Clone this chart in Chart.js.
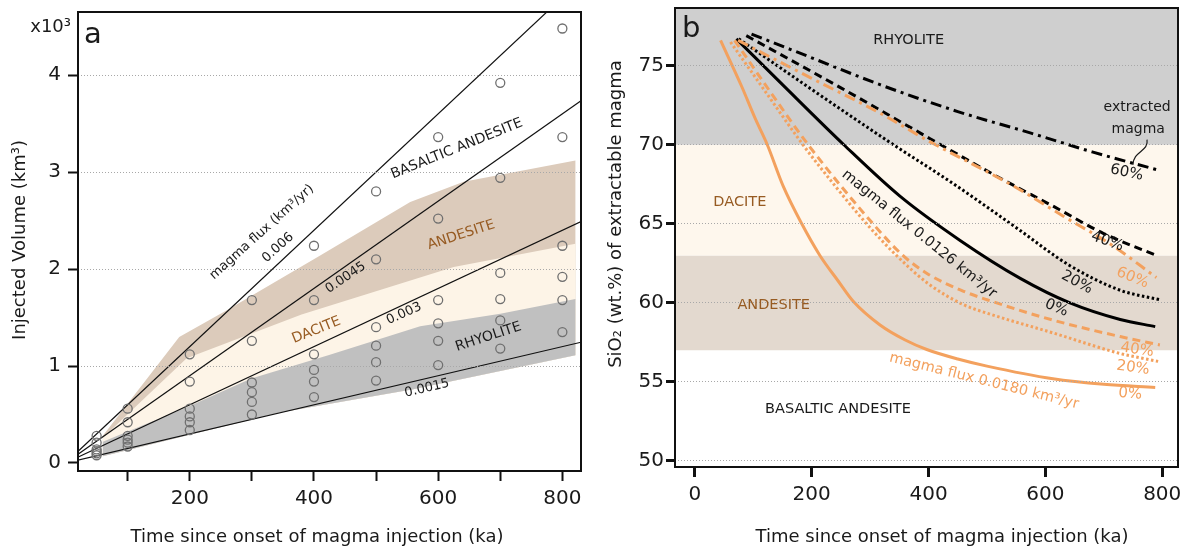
<!DOCTYPE html>
<html>
<head>
<meta charset="utf-8">
<script src="https://cdn.jsdelivr.net/npm/chart.js@4.4.1/dist/chart.umd.min.js"></script>
<style>
  html, body { margin: 0; padding: 0; background: #fff; }
  #wrap { position: relative; width: 1195px; height: 547px; }
  canvas { position: absolute; top: 0; }
  #chartA { left: 0; }
  #chartB { left: 597px; }
</style>
</head>
<body>
<div id="wrap">
  <canvas id="chartA" width="597" height="547"></canvas>
  <canvas id="chartB" width="598" height="547"></canvas>
</div>
<script>
// ---- panel a: injected volume (10^3 km^3) against time (ka) ----
const injectionTimes = [50, 100, 200, 300, 400, 500, 600, 700, 800];
const volRun1 = [0.28, 0.56, 1.12, 1.68, 2.24, 2.80, 3.36, 3.92, 4.48];
const volRun2 = [0.21, 0.42, 0.84, 1.26, 1.68, 2.10, 2.52, 2.94, 3.36];
const volRun3 = [0.14, 0.28, 0.56, 0.83, 1.12, 1.40, 1.68, 1.96, 2.24];
const volRun4 = [0.12, 0.24, 0.48, 0.73, 0.96, 1.21, 1.44, 1.69, 1.92];
const volRun5 = [0.10, 0.21, 0.42, 0.63, 0.84, 1.04, 1.26, 1.47, 1.68];
const volRun6 = [0.08, 0.17, 0.34, 0.50, 0.68, 0.85, 1.01, 1.18, 1.35];

const fluxRates = [0.006, 0.0045, 0.003, 0.0015]; // km^3/yr
const volumeTicks = [0, 1, 2, 3, 4];
const timeTicksA = [100, 200, 300, 400, 500, 600, 700, 800];

// composition fields as [time, volume] along each edge
const andesiteTop = [[60, 0.28], [183, 1.30], [261, 1.58], [410, 2.14], [555, 2.69], [641, 2.90], [821, 3.12]];
const daciteTop = [[60, 0.26], [195, 1.08], [380, 1.53], [625, 2.02], [821, 2.26]];
const rhyoliteTop = [[60, 0.22], [197, 0.58], [299, 0.87], [423, 1.11], [571, 1.41], [700, 1.54], [821, 1.69]];
const rhyoliteBase = [[60, 0.07], [345, 0.52], [560, 0.76], [821, 1.11]];

// ---- panel b: SiO2 of extractable magma (wt.%) against time (ka) ----
const silicaTicks = [50, 55, 60, 65, 70, 75];
const timeTicksB = [0, 200, 400, 600, 800];
const rhyoliteMin = 70;
const daciteMin = 63;
const andesiteMin = 57;

// slow = 0.0126 km^3/yr, fast = 0.0180 km^3/yr; suffix = % magma extracted
const slow0 = [[71, 76.7], [150, 73.8], [255, 70.0], [351, 66.75], [454, 63.95], [557, 61.55], [642, 60.0], [728, 58.95], [788, 58.5]];
const slow20 = [[75, 76.7], [200, 73.5], [340, 70.0], [440, 67.6], [556, 64.6], [640, 62.4], [728, 60.8], [796, 60.2]];
const slow40 = [[88, 76.9], [250, 73.6], [402, 70.4], [522, 67.9], [614, 66.1], [699, 64.4], [790, 63.0]];
const slow60 = [[97, 77.0], [200, 75.5], [317, 73.8], [450, 72.1], [574, 70.75], [680, 69.55], [793, 68.4]];
const fast0 = [[44, 76.6], [80, 73.7], [104, 71.6], [124, 70.0], [151, 67.4], [183, 65.0], [214, 63.0], [245, 61.4], [271, 60.1], [317, 58.6], [360, 57.65], [397, 57.05], [450, 56.45], [500, 56.0], [613, 55.2], [700, 54.85], [788, 54.65]];
const fast20 = [[61, 76.5], [120, 73.4], [185, 70.0], [240, 67.4], [294, 65.0], [345, 63.0], [400, 61.2], [459, 59.9], [500, 59.35], [613, 58.1], [728, 56.8], [793, 56.3]];
const fast40 = [[68, 76.6], [130, 73.3], [194, 70.0], [305, 65.0], [356, 63.0], [400, 61.8], [459, 60.75], [500, 60.2], [614, 58.9], [728, 57.87], [796, 57.34]];
const fast60 = [[74, 76.6], [200, 74.2], [317, 72.0], [402, 70.2], [500, 68.3], [545, 67.4], [630, 65.5], [716, 63.6], [790, 61.6]];

const FONT = '"DejaVu Sans", Verdana, sans-serif';
const INK = '#1a1a1a';
const BROWN = '#975b22';
const ORANGE = '#f3a15e';

Chart.defaults.font.family = FONT;
Chart.defaults.color = INK;

const toPoints = pairs => pairs.map(([x, y]) => ({ x, y }));

// frame, rotated labels in data space, and free text in canvas space
const decorations = {
  id: 'decorations',
  afterDraw(chart, args, opts) {
    const { ctx, chartArea: area, scales: { x, y } } = chart;
    const put = (l, px, py) => {
      ctx.save();
      ctx.translate(px, py);
      ctx.rotate((l.angle || 0) * Math.PI / 180);
      ctx.font = `${l.size || 14}px ${FONT}`;
      ctx.fillStyle = l.color || INK;
      ctx.textAlign = l.align || 'center';
      ctx.textBaseline = l.baseline || 'middle';
      ctx.fillText(l.text, 0, 0);
      ctx.restore();
    };
    for (const l of opts.labels || []) put(l, x.getPixelForValue(l.x), y.getPixelForValue(l.y));
    for (const l of opts.texts || []) put(l, l.x, l.y);
    if (opts.brace) {
      const a = { x: x.getPixelForValue(opts.brace[0][0]), y: y.getPixelForValue(opts.brace[0][1]) };
      const b = { x: x.getPixelForValue(opts.brace[1][0]), y: y.getPixelForValue(opts.brace[1][1]) };
      ctx.save();
      ctx.strokeStyle = INK;
      ctx.lineWidth = 1.2;
      ctx.beginPath();
      ctx.moveTo(a.x, a.y);
      ctx.bezierCurveTo(a.x + 2, a.y + 12, b.x, b.y - 14, b.x, b.y);
      ctx.stroke();
      ctx.restore();
    }
    ctx.save();
    ctx.strokeStyle = '#111';
    ctx.lineWidth = 2;
    ctx.strokeRect(area.left, area.top, area.right - area.left, area.bottom - area.top);
    ctx.restore();
  }
};

const fixedTicks = list => scale => { scale.ticks = list.map(value => ({ value })); };

function axisOptions(cfg) {
  return {
    x: {
      type: 'linear', min: cfg.xMin, max: cfg.xMax,
      afterBuildTicks: fixedTicks(cfg.xTicks),
      afterFit: s => { s.height = cfg.xHeight; s.paddingLeft = 0; s.paddingRight = 0; },
      border: { display: false },
      grid: { drawOnChartArea: false, drawTicks: true, tickLength: 10, tickWidth: cfg.tickWidth, tickColor: '#111' },
      ticks: { autoSkip: false, maxRotation: 0, padding: 6, font: { size: 20 }, color: INK, callback: cfg.xLabel }
    },
    y: {
      type: 'linear', min: cfg.yMin, max: cfg.yMax,
      afterBuildTicks: fixedTicks(cfg.yTicks),
      afterFit: s => { s.width = cfg.yWidth; s.paddingTop = 0; s.paddingBottom = 0; },
      border: { display: false, dash: [1, 2] },
      grid: {
        z: 1, lineWidth: 1, tickLength: cfg.yTickLength, tickWidth: cfg.tickWidth, tickColor: '#111',
        color: c => (c.tick && cfg.hideGridAt === c.tick.value) ? 'rgba(0,0,0,0)' : '#a8a8a8'
      },
      ticks: { autoSkip: false, padding: cfg.yPad, font: { size: 20 }, color: INK }
    }
  };
}

const baseOptions = {
  responsive: false, animation: false, devicePixelRatio: 1, events: [],
  plugins: { legend: { display: false }, tooltip: { enabled: false } }
};

// ---------------- panel a ----------------
const aTimeMin = 20, aTimeMax = 830;

const fluxLines = fluxRates.map(f => ({
  // volume (10^3 km^3) = flux (km^3/yr) x time (ka)
  data: [{ x: 0, y: 0 }, { x: aTimeMax, y: f * aTimeMax }],
  borderColor: '#111', borderWidth: 1.2, pointRadius: 0, fill: false, order: 1
}));

const runSets = [volRun1, volRun2, volRun3, volRun4, volRun5, volRun6].map(vals => ({
  data: injectionTimes.map((t, i) => ({ x: t, y: vals[i] })),
  showLine: false, pointRadius: 4.5, pointBorderWidth: 1.3,
  pointBorderColor: '#6f6f6f', pointBackgroundColor: 'rgba(0,0,0,0)', order: 0
}));

const field = (top, base, color, order) => ({
  data: toPoints(top.concat(base.slice().reverse())),
  fill: 'shape', backgroundColor: color, borderColor: 'rgba(0,0,0,0)', borderWidth: 0,
  pointRadius: 0, order
});

new Chart(document.getElementById('chartA'), {
  type: 'line',
  data: {
    datasets: [
      ...runSets,
      ...fluxLines,
      field(rhyoliteTop, rhyoliteBase, '#c0c0c0', 3),
      field(daciteTop, rhyoliteBase, '#fdf4e7', 4),
      field(andesiteTop, rhyoliteBase, '#dccbbb', 5)
    ]
  },
  options: {
    ...baseOptions,
    layout: { padding: { top: 12, right: 16, left: 0, bottom: 0 } },
    scales: axisOptions({
      xMin: aTimeMin, xMax: aTimeMax, xTicks: timeTicksA, xHeight: 76,
      xLabel: v => (v % 200 === 0 ? String(v) : ''),
      yMin: -0.0825, yMax: 4.65, yTicks: volumeTicks, yWidth: 78, yTickLength: 10, yPad: 7,
      tickWidth: 2, hideGridAt: 0
    }),
    plugins: {
      ...baseOptions.plugins,
      decorations: {
        labels: [
          { text: 'magma flux (km³/yr)', x: 316, y: 2.38, angle: -42, size: 13 },
          { text: '0.006', x: 342, y: 2.22, angle: -42, size: 13 },
          { text: 'BASALTIC ANDESITE', x: 630, y: 3.24, angle: -22, size: 14 },
          { text: 'ANDESITE', x: 637, y: 2.35, angle: -18, size: 14, color: BROWN },
          { text: '0.0045', x: 451, y: 1.91, angle: -34, size: 13 },
          { text: 'DACITE', x: 404, y: 1.37, angle: -22, size: 14, color: BROWN },
          { text: '0.003', x: 545, y: 1.54, angle: -24, size: 13 },
          { text: 'RHYOLITE', x: 681, y: 1.30, angle: -18, size: 14 },
          { text: '0.0015', x: 582, y: 0.77, angle: -13, size: 13 }
        ],
        texts: [
          { text: 'a', x: 84, y: 43, size: 29, align: 'left', baseline: 'alphabetic' },
          { text: 'x10³', x: 71, y: 32, size: 18, align: 'right', baseline: 'alphabetic' },
          { text: 'Time since onset of magma injection (ka)', x: 317, y: 537, size: 18 },
          { text: 'Injected Volume (km³)', x: 20, y: 240, size: 18, angle: -90 }
        ]
      }
    }
  },
  plugins: [decorations]
});

// ---------------- panel b ----------------
const bTimeMin = -34, bTimeMax = 827;
const bSilicaMin = 49.62, bSilicaMax = 78.65;

const curve = (pairs, color, dash) => ({
  data: toPoints(pairs), borderColor: color, borderWidth: 3, borderDash: dash,
  borderCapStyle: 'butt', pointRadius: 0, cubicInterpolationMode: 'monotone', fill: false, order: 0
});
const DOT = [2.5, 2.5], DASH = [8, 5], DASHDOT = [11, 5, 3, 5];

const level = (value, fill, color, order) => ({
  data: [{ x: bTimeMin, y: value }, { x: bTimeMax, y: value }],
  fill, backgroundColor: color, borderColor: 'rgba(0,0,0,0)', borderWidth: 0, pointRadius: 0, order
});

new Chart(document.getElementById('chartB'), {
  type: 'line',
  data: {
    datasets: [
      curve(fast0, ORANGE, []),
      curve(fast20, ORANGE, DOT),
      curve(fast40, ORANGE, DASH),
      curve(fast60, ORANGE, DASHDOT),
      curve(slow0, '#000', []),
      curve(slow20, '#000', DOT),
      curve(slow40, '#000', DASH),
      curve(slow60, '#000', DASHDOT),
      level(rhyoliteMin, 'end', '#cfcfcf', 3),
      level(daciteMin, { value: rhyoliteMin }, '#fef7ed', 4),
      level(andesiteMin, { value: daciteMin }, '#e3d9cf', 5)
    ]
  },
  options: {
    ...baseOptions,
    layout: { padding: { top: 8, right: 17, left: 0, bottom: 0 } },
    scales: axisOptions({
      xMin: bTimeMin, xMax: bTimeMax, xTicks: timeTicksB, xHeight: 80,
      xLabel: v => String(v),
      yMin: bSilicaMin, yMax: bSilicaMax, yTicks: silicaTicks, yWidth: 78, yTickLength: 9, yPad: 2,
      tickWidth: 3, hideGridAt: null
    }),
    plugins: {
      ...baseOptions.plugins,
      decorations: {
        labels: [
          { text: 'RHYOLITE', x: 366, y: 76.58, size: 14.5 },
          { text: 'DACITE', x: 77, y: 66.39, size: 14.5, color: BROWN },
          { text: 'ANDESITE', x: 135, y: 59.87, size: 14.5, color: BROWN },
          { text: 'BASALTIC ANDESITE', x: 245, y: 53.29, size: 14.5 },
          { text: 'extracted', x: 757, y: 72.34, size: 14 },
          { text: 'magma', x: 759, y: 70.95, size: 14 },
          { text: '60%', x: 739, y: 68.23, angle: 12, size: 15 },
          { text: '40%', x: 706, y: 63.88, angle: 20, size: 15 },
          { text: '60%', x: 749, y: 61.58, angle: 22, size: 15, color: ORANGE },
          { text: '20%', x: 654, y: 61.3, angle: 28, size: 15 },
          { text: '0%', x: 619, y: 59.68, angle: 22, size: 15 },
          { text: '40%', x: 757, y: 57.03, angle: 8, size: 15, color: ORANGE },
          { text: '20%', x: 750, y: 55.89, angle: 8, size: 15, color: ORANGE },
          { text: '0%', x: 745, y: 54.24, angle: 5, size: 15, color: ORANGE },
          { text: 'magma flux 0.0126 km³/yr', x: 384, y: 64.35, angle: 39, size: 14.5 },
          { text: 'magma flux 0.0180 km³/yr', x: 495, y: 55.05, angle: 14, size: 14.5, color: ORANGE }
        ],
        brace: [[774, 70.32], [750, 68.73]],
        texts: [
          { text: 'b', x: 85, y: 37, size: 29, align: 'left', baseline: 'alphabetic' },
          { text: 'Time since onset of magma injection (ka)', x: 345, y: 537, size: 18 },
          { text: 'SiO₂ (wt.%) of extractable magma', x: 19, y: 214, size: 18, angle: -90 }
        ]
      }
    }
  },
  plugins: [decorations]
});
</script>
</body>
</html>
